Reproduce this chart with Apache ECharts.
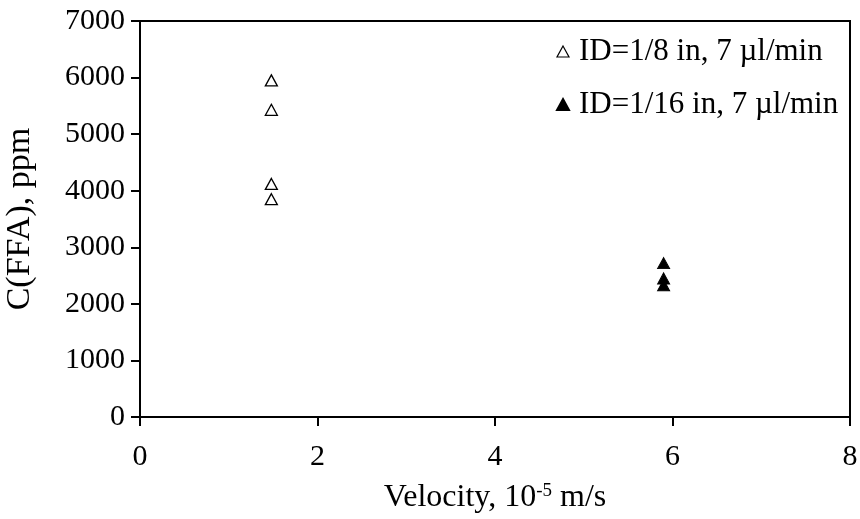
<!DOCTYPE html>
<html>
<head>
<meta charset="utf-8">
<script src="https://cdn.jsdelivr.net/npm/echarts@6/dist/echarts.min.js"></script>
<style>html,body{margin:0;padding:0;background:#fff}#c{width:860px;height:519px}</style>
</head>
<body>
<div id="c"></div>
<script>
const seriesNames = ['ID=1/8 in, 7 µl/min', 'ID=1/16 in, 7 µl/min'];
const openX = [1.48, 1.48, 1.48, 1.48];
const openY = [5950, 5430, 4120, 3850];
const filledX = [5.9, 5.9, 5.9];
const filledY = [2720, 2450, 2330];
const xTicks = [0, 2, 4, 6, 8];
const yTicks = [0, 1000, 2000, 3000, 4000, 5000, 6000, 7000];

const FONT = '"Liberation Serif", "Times New Roman", serif';
const chart = echarts.init(document.getElementById('c'), null, {renderer: 'canvas'});
chart.setOption({
  animation: false,
  backgroundColor: '#fff',
  textStyle: {fontFamily: FONT, color: '#000'},
  grid: {left: 140, right: 10, top: 21, bottom: 102, containLabel: false, outerBoundsMode: 'none', show: true, borderColor: '#000', borderWidth: 2, backgroundColor: 'transparent'},
  legend: {
    orient: 'vertical', left: 551, top: 31, itemGap: 22, itemWidth: 12, itemHeight: 11,
    textStyle: {fontFamily: FONT, fontSize: 31, color: '#000', padding: [0, 0, 0, 5]},
    data: [
      {name: seriesNames[0], icon: 'triangle', itemStyle: {color: '#fff', borderColor: '#000', borderWidth: 1.2}},
      {name: seriesNames[1], icon: 'triangle', itemStyle: {color: '#000', opacity: 1}}
    ]
  },
  xAxis: {
    type: 'value', min: xTicks[0], max: xTicks[xTicks.length - 1], interval: 2,
    name: '{n|Velocity, 10}{s|-5}{n| m/s}', nameLocation: 'middle', nameGap: 65,
    nameTextStyle: {rich: {n: {fontFamily: FONT, fontSize: 32, color: '#000'}, s: {fontFamily: FONT, fontSize: 19, color: '#000', verticalAlign: 'top', padding: [0, 0, 10, 0]}}},
    axisLine: {lineStyle: {color: '#000', width: 2}},
    axisTick: {show: true, length: 9, lineStyle: {color: '#000', width: 2}},
    axisLabel: {fontFamily: FONT, fontSize: 30, color: '#000', margin: 25, formatter: v => String(v)},
    splitLine: {show: false}
  },
  yAxis: {
    type: 'value', min: yTicks[0], max: yTicks[yTicks.length - 1], interval: 1000,
    name: 'C(FFA), ppm', nameLocation: 'middle', nameGap: 103, nameRotate: 90,
    nameTextStyle: {fontFamily: FONT, fontSize: 34, color: '#000'},
    axisLine: {lineStyle: {color: '#000', width: 2}},
    axisTick: {show: true, length: 9, lineStyle: {color: '#000', width: 2}},
    axisLabel: {fontFamily: FONT, fontSize: 30, color: '#000', margin: 15, formatter: v => String(v)},
    splitLine: {show: false}
  },
  series: [
    {
      name: seriesNames[0], type: 'scatter', symbol: 'triangle', symbolSize: [12, 11],
      itemStyle: {color: '#fff', borderColor: '#000', borderWidth: 1.3, opacity: 1},
      data: openX.map((x, i) => [x, openY[i]])
    },
    {
      name: seriesNames[1], type: 'scatter', symbol: 'triangle', symbolSize: [12, 11],
      itemStyle: {color: '#000', borderColor: '#000', borderWidth: 1, opacity: 1},
      data: filledX.map((x, i) => [x, filledY[i]])
    }
  ]
});
</script>
</body>
</html>
